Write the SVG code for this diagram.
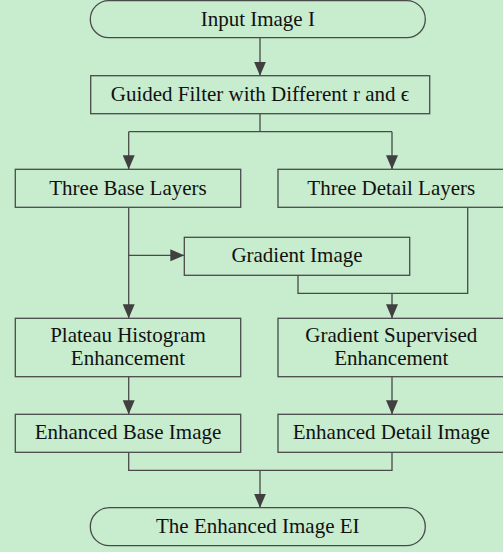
<svg xmlns="http://www.w3.org/2000/svg" width="503" height="552" viewBox="0 0 503 552">
  <style>
    .box { fill: none; stroke: #4a4a4a; stroke-width: 1.3; }
    .wire { fill: none; stroke: #4a4a4a; stroke-width: 1.3; }
  </style>
  <defs>
    <marker id="arrow" markerUnits="userSpaceOnUse" markerWidth="14" markerHeight="12" refX="14" refY="6" orient="auto">
      <path d="M0,0 L14,6 L0,12 Z" fill="#404040"/>
    </marker>
  </defs>

  <rect width="503" height="552" fill="#c7ecce"/>

  <!-- connectors -->
  <g id="connectors">
    <line class="wire" x1="260" y1="38" x2="260" y2="75.7" marker-end="url(#arrow)"/>
    <polyline class="wire" points="260,113.7 260,131.7"/>
    <polyline class="wire" points="128.7,131.7 392,131.7"/>
    <line class="wire" x1="128.7" y1="131.7" x2="128.7" y2="169.3" marker-end="url(#arrow)"/>
    <line class="wire" x1="392" y1="131.7" x2="392" y2="169.3" marker-end="url(#arrow)"/>
    <line class="wire" x1="128.7" y1="207.3" x2="128.7" y2="318.3" marker-end="url(#arrow)"/>
    <line class="wire" x1="128.7" y1="255.3" x2="184.3" y2="255.3" marker-end="url(#arrow)"/>
    <polyline class="wire" points="298,275.3 298,293.3 467.7,293.3 467.7,207.3"/>
    <line class="wire" x1="392" y1="293.3" x2="392" y2="318.3" marker-end="url(#arrow)"/>
    <line class="wire" x1="128.7" y1="376.7" x2="128.7" y2="414.3" marker-end="url(#arrow)"/>
    <line class="wire" x1="392" y1="376.7" x2="392" y2="414.3" marker-end="url(#arrow)"/>
    <polyline class="wire" points="128.7,452.3 128.7,470.3 392,470.3 392,452.3"/>
    <line class="wire" x1="260" y1="470.3" x2="260" y2="507.7" marker-end="url(#arrow)"/>
  </g>

  <!-- all labels share one serif face -->
  <g font-family="Liberation Serif, Times New Roman, serif" font-size="21" fill="#111" text-anchor="middle">
    <g id="input">
      <rect class="box" x="90.3" y="0.7" width="335" height="37" rx="18.5"/>
      <text x="257.8" y="25.7">Input Image I</text>
    </g>

    <g id="guided-filter">
      <rect class="box" x="90.7" y="75.7" width="339" height="38"/>
      <text x="260" y="100.5">Guided Filter with Different r and ϵ</text>
    </g>

    <g id="base-layers">
      <rect class="box" x="15.3" y="169.3" width="225.4" height="38"/>
      <text x="128" y="195">Three Base Layers</text>
    </g>

    <g id="detail-layers">
      <rect class="box" x="278" y="169.3" width="226" height="38"/>
      <text x="391.3" y="195">Three Detail Layers</text>
    </g>

    <g id="gradient-image">
      <rect class="box" x="184.3" y="237.3" width="225.4" height="38"/>
      <text x="297" y="262.3">Gradient Image</text>
    </g>

    <g id="plateau">
      <rect class="box" x="15.3" y="318.3" width="225.4" height="58.4"/>
      <text x="128" y="342">Plateau Histogram</text>
      <text x="128" y="365">Enhancement</text>
    </g>

    <g id="gradient-supervised">
      <rect class="box" x="278" y="318.3" width="226" height="58.4"/>
      <text x="391.3" y="342">Gradient Supervised</text>
      <text x="391.3" y="365">Enhancement</text>
    </g>

    <g id="enhanced-base">
      <rect class="box" x="15.3" y="414.3" width="225.4" height="38"/>
      <text x="128" y="439.3">Enhanced Base Image</text>
    </g>

    <g id="enhanced-detail">
      <rect class="box" x="278" y="414.3" width="226" height="38"/>
      <text x="391.3" y="439.3">Enhanced Detail Image</text>
    </g>

    <g id="output">
      <rect class="box" x="90.3" y="507.7" width="335" height="38" rx="19"/>
      <text x="257.8" y="532.7">The Enhanced Image EI</text>
    </g>
  </g>
</svg>
